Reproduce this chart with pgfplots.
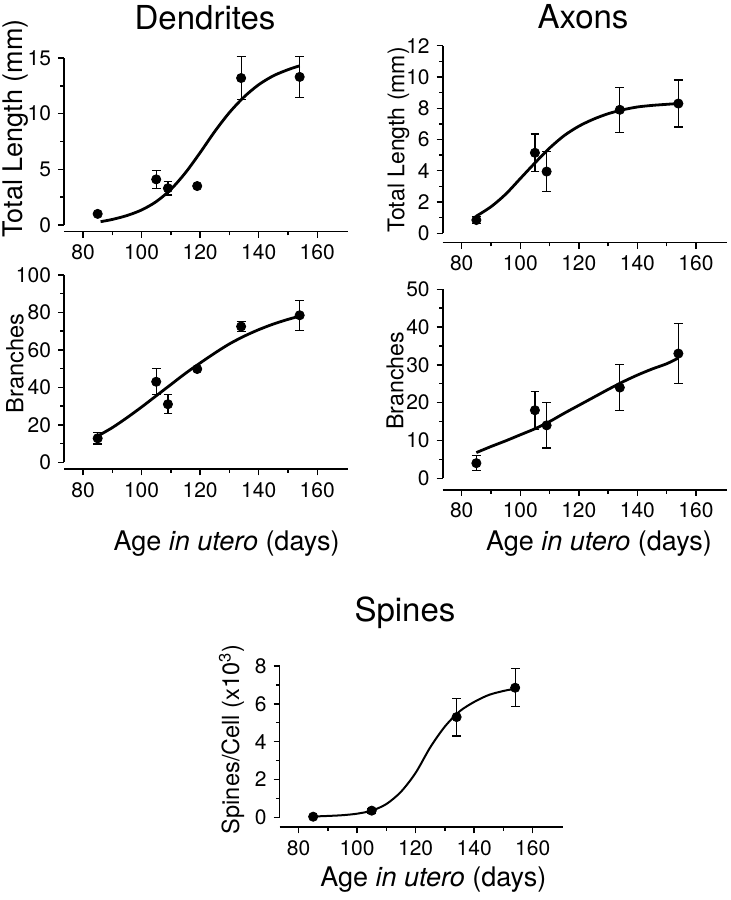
\documentclass[border=0pt]{standalone}
\usepackage{fontspec}
\setmainfont{TeX Gyre Heros}
\usepackage{pgfplots}
\pgfplotsset{compat=1.18}

\pgfplotsset{
  panel/.style={scale only axis, anchor=south west,
    xmin=73.5, xmax=170.5, xtick={80,100,...,160}, minor xtick={90,110,130,150},
    axis x line*=bottom, axis y line*=left, axis line style={-, line width=0.8pt},
    tick align=outside, major tick length=3pt, minor tick length=1.8pt,
    tick style={black, line width=0.7pt},
    minor y tick num=1,
    tick label style={font=\fontsize{10.5}{12}\selectfont},
    /pgf/number format/assume math mode=true,
    clip=false},
  fit/.style={black, line width=1.4pt, smooth, no marks},
  pts/.style={only marks, mark=*, mark size=2.3pt, black,
    error bars/.cd, y dir=both, y explicit,
    error bar style={line width=0.6pt},
    error mark options={rotate=90, mark size=2.2pt, line width=0.6pt}},
}
\newcommand{\agelabel}{Age \textit{in utero} (days)}

\begin{document}
\begin{tikzpicture}[x=1pt,y=1pt]
\path[use as bounding box] (0,0) rectangle (365.5,450);

% dendrites, total length
\begin{axis}[panel, at={(32pt,334.15pt)}, width=142pt, height=86.85pt,
  ymin=-0.6, ymax=15, ytick={0,5,10,15}, y axis line style={shorten <=3.35pt}]
  \addplot[fit] table {
86 0.3
90 0.5
95 0.85
100 1.35
105 2.1
110 3.2
115 4.7
120 6.5
125 8.4
130 10.1
135 11.5
140 12.6
145 13.4
150 13.95
154 14.3
  };
  \addplot[pts] table[x=x, y=y, y error=e] {
x y e
85 1.0 0
105 4.1 0.8
109 3.3 0.6
119 3.5 0
134 13.2 1.9
154 13.3 1.85
  };
\end{axis}

% axons, total length
\begin{axis}[panel, at={(221.35pt,328.65pt)}, width=142pt, height=98.5pt,
  ymin=-0.6, ymax=12, ytick={0,2,...,12}, y axis line style={shorten <=4.7pt}]
  \addplot[fit] table {
85 1.1
90 1.7
95 2.5
100 3.5
105 4.5
110 5.45
115 6.25
120 6.85
125 7.3
130 7.65
135 7.9
140 8.08
145 8.18
150 8.25
154 8.3
  };
  \addplot[pts] table[x=x, y=y, y error=e] {
x y e
85 0.85 0.2
105 5.15 1.2
109 3.95 1.27
134 7.9 1.45
154 8.3 1.5
  };
\end{axis}

% dendrites, branches
\begin{axis}[panel, at={(32pt,215.35pt)}, width=142pt, height=97.15pt,
  ymin=-3.74, ymax=100, ytick={0,20,...,100}, y axis line style={shorten <=3.5pt}]
  \addplot[fit] table {
85 14
90 18.5
95 23.8
100 29.5
105 35.5
110 41.5
115 47.5
120 53
125 58.3
130 63.2
135 67.3
140 70.8
145 73.8
150 76.3
154 78
  };
  \addplot[pts] table[x=x, y=y, y error=e] {
x y e
85 12.8 3
105 43 7
109 31 5
119 49.8 0
134 72.5 2.8
154 78.5 8
  };
\end{axis}

% axons, branches
\begin{axis}[panel, at={(221.35pt,205pt)}, width=142pt, height=100.35pt,
  ymin=-3.1, ymax=50, ytick={0,10,...,50}, y axis line style={shorten <=5.85pt}]
  \addplot[fit] table {
85 6.8
90 8.4
95 9.9
100 11.5
105 13.1
110 15
115 17.2
120 19.3
125 21.4
130 23.5
135 25.5
140 27.3
145 28.9
150 30.3
154 31.8
  };
  \addplot[pts] table[x=x, y=y, y error=e] {
x y e
85 4 2
105 18 5
109 14 6
134 24 6
154 33 8
  };
\end{axis}

% spines
\begin{axis}[panel, at={(139.75pt,36.35pt)}, width=142pt, height=80.65pt,
  ymin=-0.53, ymax=8, ytick={0,2,...,8}, y axis line style={shorten <=5pt}]
  \addplot[fit, line width=1pt] table {
85 0.04
90 0.07
95 0.11
100 0.19
105 0.35
110 0.7
115 1.35
120 2.35
125 3.7
130 4.8
135 5.6
140 6.1
145 6.47
150 6.68
154 6.8
  };
  \addplot[pts] table[x=x, y=y, y error=e] {
x y e
85 0.03 0
105 0.35 0.12
134 5.3 1.0
154 6.85 1.0
  };
\end{axis}

% titles and labels
\node[anchor=base, font=\fontsize{16.5}{18}\selectfont] at (102.5,435.35) {Dendrites};
\node[anchor=base, font=\fontsize{16.5}{18}\selectfont] at (291.5,435.85) {Axons};
\node[anchor=base, font=\fontsize{16.5}{18}\selectfont] at (202.5,139.15) {Spines};
\node[rotate=90, font=\fontsize{13.5}{15}\selectfont] at (8,385.85) {Total Length (mm)};
\node[rotate=90, font=\fontsize{11.5}{13}\selectfont] at (199.2,380) {Total Length (mm)};
\node[rotate=90, font=\fontsize{11.8}{13}\selectfont] at (7.5,268.3) {Branches};
\node[rotate=90, font=\fontsize{11.6}{13}\selectfont] at (197.5,259.6) {Branches};
\node[rotate=90, font=\fontsize{11.8}{13}\selectfont] at (115.8,80.4) {Spines/Cell (x10\textsuperscript{3})};
\node[font=\fontsize{13.5}{15}\selectfont] at (113.3,178.35) {\agelabel};
\node[font=\fontsize{13.5}{15}\selectfont] at (299.5,178.35) {\agelabel};
\node[font=\fontsize{13.5}{15}\selectfont] at (216.7,10) {\agelabel};
\end{tikzpicture}
\end{document}
